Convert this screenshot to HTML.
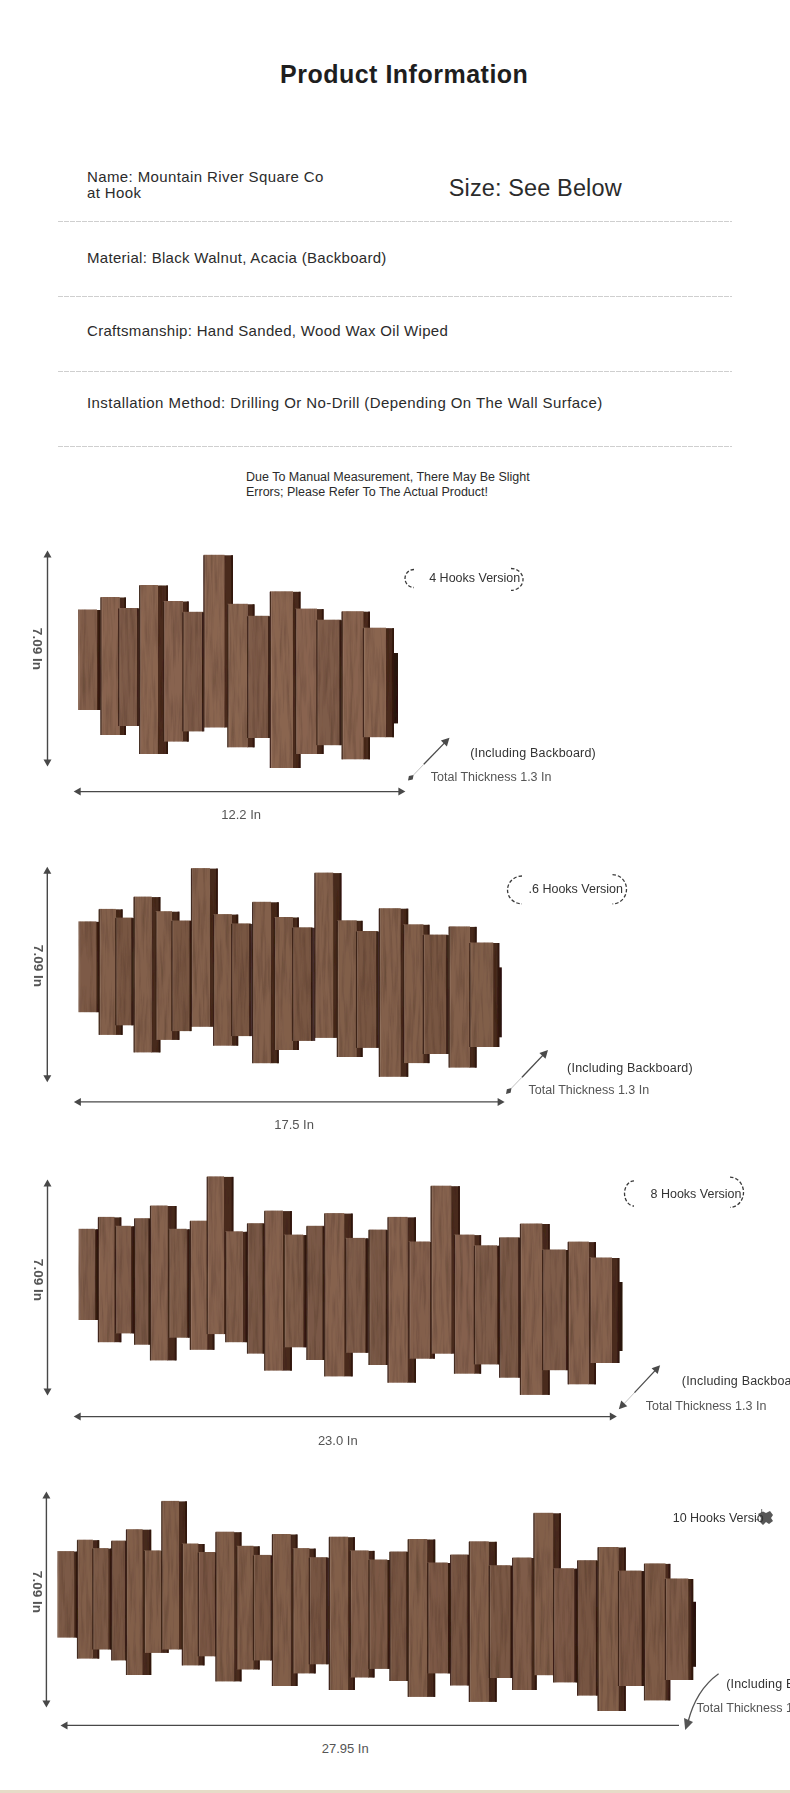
<!DOCTYPE html>
<html><head><meta charset="utf-8">
<style>
html,body{margin:0;padding:0;background:#fff;}
body{width:790px;height:1793px;position:relative;overflow:hidden;font-family:"Liberation Sans",sans-serif;color:#2b2b2b;}
.t{position:absolute;white-space:nowrap;line-height:1;}
.dash{position:absolute;left:58px;width:674px;height:1px;background:repeating-linear-gradient(to right,#cfcfcf 0,#cfcfcf 4.8px,transparent 4.8px,transparent 6px);}
.rot{position:absolute;white-space:nowrap;line-height:1;font-weight:bold;color:#555;transform-origin:center center;}
svg{position:absolute;left:0;top:0;}
.beige{position:absolute;left:0;top:1790px;width:790px;height:3px;background:#e6dcc8;}
</style></head><body>
<div class="t" style="left:280px;top:62px;font-size:25px;letter-spacing:0.5px;font-weight:bold;color:#1e1e1e;">Product Information</div>
<div class="t" style="left:87px;top:169px;font-size:15px;letter-spacing:0.39px;">Name: Mountain River Square Co</div>
<div class="t" style="left:87px;top:185px;font-size:15px;letter-spacing:0.39px;">at Hook</div>
<div class="t" style="left:448.8px;top:177.3px;font-size:23.5px;letter-spacing:0.12px;">Size: See Below</div>
<div class="dash" style="top:221px"></div>
<div class="t" style="left:87px;top:250px;font-size:15px;letter-spacing:0.3px;">Material: Black Walnut, Acacia (Backboard)</div>
<div class="dash" style="top:296px"></div>
<div class="t" style="left:87px;top:323px;font-size:15px;letter-spacing:0.31px;">Craftsmanship: Hand Sanded, Wood Wax Oil Wiped</div>
<div class="dash" style="top:371px"></div>
<div class="t" style="left:87px;top:395px;font-size:15px;letter-spacing:0.43px;">Installation Method: Drilling Or No-Drill (Depending On The Wall Surface)</div>
<div class="dash" style="top:446px"></div>
<div class="t" style="left:246px;top:471px;font-size:12.5px;">Due To Manual Measurement, There May Be Slight</div>
<div class="t" style="left:246px;top:486px;font-size:12.5px;">Errors; Please Refer To The Actual Product!</div>

<svg width="790" height="1793" viewBox="0 0 790 1793">
<defs><filter id="grain" x="0" y="0" width="100%" height="100%" filterUnits="userSpaceOnUse"><feTurbulence type="fractalNoise" baseFrequency="0.3 0.02" numOctaves="3" seed="7" result="n"/><feColorMatrix in="n" type="matrix" values="0 0 0 0 0  0 0 0 0 0  0 0 0 0 0  0.8 0 0 0 -0.32" result="na"/><feComposite in="na" in2="SourceAlpha" operator="in" result="nm"/><feFlood flood-color="#2a1408" result="fl"/><feComposite in="fl" in2="nm" operator="in" result="dk"/><feComposite in="dk" in2="SourceGraphic" operator="over"/></filter></defs>
<g filter="url(#grain)"><rect x="390" y="653" width="8" height="70.4" fill="#2a130a"/>
<rect x="96.5" y="610" width="3.5" height="100" fill="#4a2b1c"/>
<rect x="98.2" y="610" width="3.3" height="100" fill="#2a130a" opacity="0.8"/>
<rect x="78.1" y="609.5" width="18.9" height="100.5" fill="#835f4b"/>
<rect x="78.9" y="609.5" width="1" height="100.5" fill="#ffffff" opacity="0.12"/>
<rect x="119.2" y="597.5" width="6.8" height="137.5" fill="#4a2b1c"/>
<rect x="124.2" y="597.5" width="1.8" height="137.5" fill="#2a130a" opacity="0.8"/>
<rect x="100.6" y="597" width="19.1" height="138" fill="#89644f"/>
<rect x="100.3" y="597.5" width="1.3" height="137.5" fill="#2a130a" opacity="0.75"/>
<rect x="101.4" y="597" width="1" height="138" fill="#ffffff" opacity="0.12"/>
<rect x="118.4" y="608" width="20.2" height="118" fill="#7e5b48"/>
<rect x="137.1" y="608.5" width="2.8" height="117.5" fill="#2a130a" opacity="0.85"/>
<rect x="118.1" y="608.5" width="1.3" height="117.5" fill="#2a130a" opacity="0.75"/>
<rect x="119.2" y="608" width="1" height="118" fill="#ffffff" opacity="0.12"/>
<rect x="157.5" y="585.5" width="10.5" height="168.5" fill="#4a2b1c"/>
<rect x="166.2" y="585.5" width="1.8" height="168.5" fill="#2a130a" opacity="0.8"/>
<rect x="139.3" y="585" width="18.7" height="169" fill="#8a6550"/>
<rect x="139" y="585.5" width="1.3" height="168.5" fill="#2a130a" opacity="0.75"/>
<rect x="140.1" y="585" width="1" height="169" fill="#ffffff" opacity="0.12"/>
<rect x="182.5" y="601.5" width="6.2" height="140.1" fill="#4a2b1c"/>
<rect x="186.9" y="601.5" width="1.8" height="140.1" fill="#2a130a" opacity="0.8"/>
<rect x="163.3" y="601" width="19.7" height="140.6" fill="#88634f"/>
<rect x="163" y="601.5" width="1.3" height="140.1" fill="#2a130a" opacity="0.75"/>
<rect x="164.1" y="601" width="1" height="140.6" fill="#ffffff" opacity="0.12"/>
<rect x="182.6" y="611.8" width="20.9" height="119.6" fill="#7e5b48"/>
<rect x="202" y="612.3" width="2.3" height="119.1" fill="#2a130a" opacity="0.85"/>
<rect x="182.3" y="612.3" width="1.3" height="119.1" fill="#2a130a" opacity="0.75"/>
<rect x="183.4" y="611.8" width="1" height="119.6" fill="#ffffff" opacity="0.12"/>
<rect x="224" y="555.3" width="9" height="172.2" fill="#4a2b1c"/>
<rect x="231.2" y="555.3" width="1.8" height="172.2" fill="#2a130a" opacity="0.8"/>
<rect x="203.6" y="554.8" width="20.9" height="172.7" fill="#8a6550"/>
<rect x="203.3" y="555.3" width="1.3" height="172.2" fill="#2a130a" opacity="0.75"/>
<rect x="204.4" y="554.8" width="1" height="172.7" fill="#ffffff" opacity="0.12"/>
<rect x="247.3" y="604.3" width="7.2" height="143" fill="#4a2b1c"/>
<rect x="252.7" y="604.3" width="1.8" height="143" fill="#2a130a" opacity="0.8"/>
<rect x="227.5" y="603.8" width="20.3" height="143.5" fill="#896550"/>
<rect x="227.2" y="604.3" width="1.3" height="143" fill="#2a130a" opacity="0.75"/>
<rect x="228.3" y="603.8" width="1" height="143.5" fill="#ffffff" opacity="0.12"/>
<rect x="247.4" y="615.8" width="22.2" height="122.2" fill="#7e5b48"/>
<rect x="268.1" y="616.3" width="2.3" height="121.7" fill="#2a130a" opacity="0.85"/>
<rect x="247.1" y="616.3" width="1.3" height="121.7" fill="#2a130a" opacity="0.75"/>
<rect x="248.2" y="615.8" width="1" height="122.2" fill="#ffffff" opacity="0.12"/>
<rect x="292.5" y="591.8" width="8" height="176.2" fill="#4a2b1c"/>
<rect x="298.7" y="591.8" width="1.8" height="176.2" fill="#2a130a" opacity="0.8"/>
<rect x="270" y="591.3" width="23" height="176.7" fill="#8a6550"/>
<rect x="269.7" y="591.8" width="1.3" height="176.2" fill="#2a130a" opacity="0.75"/>
<rect x="270.8" y="591.3" width="1" height="176.7" fill="#ffffff" opacity="0.12"/>
<rect x="316.5" y="609.1" width="7.1" height="144.9" fill="#4a2b1c"/>
<rect x="321.8" y="609.1" width="1.8" height="144.9" fill="#2a130a" opacity="0.8"/>
<rect x="295.3" y="608.6" width="21.7" height="145.4" fill="#896450"/>
<rect x="295" y="609.1" width="1.3" height="144.9" fill="#2a130a" opacity="0.75"/>
<rect x="296.1" y="608.6" width="1" height="145.4" fill="#ffffff" opacity="0.12"/>
<rect x="316.6" y="619.7" width="24.3" height="125.5" fill="#7e5b48"/>
<rect x="339.4" y="620.2" width="3" height="125" fill="#2a130a" opacity="0.85"/>
<rect x="316.3" y="620.2" width="1.3" height="125" fill="#2a130a" opacity="0.75"/>
<rect x="317.4" y="619.7" width="1" height="125.5" fill="#ffffff" opacity="0.12"/>
<rect x="363" y="611.7" width="7" height="147.6" fill="#4a2b1c"/>
<rect x="368.2" y="611.7" width="1.8" height="147.6" fill="#2a130a" opacity="0.8"/>
<rect x="341.8" y="611.2" width="21.7" height="148.1" fill="#89644f"/>
<rect x="341.5" y="611.7" width="1.3" height="147.6" fill="#2a130a" opacity="0.75"/>
<rect x="342.6" y="611.2" width="1" height="148.1" fill="#ffffff" opacity="0.12"/>
<rect x="385.5" y="628.2" width="8.5" height="109" fill="#4a2b1c"/>
<rect x="392.2" y="628.2" width="1.8" height="109" fill="#2a130a" opacity="0.8"/>
<rect x="363.1" y="627.7" width="22.9" height="109.5" fill="#8a6550"/>
<rect x="362.8" y="628.2" width="1.3" height="109" fill="#2a130a" opacity="0.75"/>
<rect x="363.9" y="627.7" width="1" height="109.5" fill="#ffffff" opacity="0.12"/></g>
<g filter="url(#grain)"><rect x="495.3" y="967.4" width="6.5" height="69.9" fill="#2a130a"/>
<rect x="95.9" y="921.9" width="3.4" height="90.3" fill="#472a1b"/>
<rect x="97.5" y="921.9" width="1.8" height="90.3" fill="#2a130a" opacity="0.8"/>
<rect x="78.5" y="921.4" width="17.9" height="90.8" fill="#7d5a46"/>
<rect x="79.3" y="921.4" width="1" height="90.8" fill="#ffffff" opacity="0.12"/>
<rect x="115.4" y="909.4" width="7.2" height="125.5" fill="#472a1b"/>
<rect x="120.8" y="909.4" width="1.8" height="125.5" fill="#2a130a" opacity="0.8"/>
<rect x="98.9" y="908.9" width="17" height="126" fill="#83604b"/>
<rect x="98.6" y="909.4" width="1.3" height="125.5" fill="#2a130a" opacity="0.75"/>
<rect x="99.7" y="908.9" width="1" height="126" fill="#ffffff" opacity="0.12"/>
<rect x="115.5" y="917.6" width="17.3" height="107.7" fill="#785642"/>
<rect x="131.3" y="918.1" width="3.1" height="107.2" fill="#2a130a" opacity="0.85"/>
<rect x="115.2" y="918.1" width="1.3" height="107.2" fill="#2a130a" opacity="0.75"/>
<rect x="116.3" y="917.6" width="1" height="107.7" fill="#ffffff" opacity="0.12"/>
<rect x="151.2" y="897.1" width="9.2" height="155.3" fill="#472a1b"/>
<rect x="158.6" y="897.1" width="1.8" height="155.3" fill="#2a130a" opacity="0.8"/>
<rect x="133.8" y="896.6" width="17.9" height="155.8" fill="#83604b"/>
<rect x="133.5" y="897.1" width="1.3" height="155.3" fill="#2a130a" opacity="0.75"/>
<rect x="134.6" y="896.6" width="1" height="155.8" fill="#ffffff" opacity="0.12"/>
<rect x="171.5" y="911.7" width="7.9" height="128.2" fill="#472a1b"/>
<rect x="177.6" y="911.7" width="1.8" height="128.2" fill="#2a130a" opacity="0.8"/>
<rect x="155.6" y="911.2" width="16.4" height="128.7" fill="#83604b"/>
<rect x="155.3" y="911.7" width="1.3" height="128.2" fill="#2a130a" opacity="0.75"/>
<rect x="156.4" y="911.2" width="1" height="128.7" fill="#ffffff" opacity="0.12"/>
<rect x="171.6" y="920.5" width="19.4" height="110.6" fill="#785642"/>
<rect x="189.5" y="921" width="2.3" height="110.1" fill="#2a130a" opacity="0.85"/>
<rect x="171.3" y="921" width="1.3" height="110.1" fill="#2a130a" opacity="0.75"/>
<rect x="172.4" y="920.5" width="1" height="110.6" fill="#ffffff" opacity="0.12"/>
<rect x="209.4" y="868.6" width="8.4" height="158.2" fill="#472a1b"/>
<rect x="216" y="868.6" width="1.8" height="158.2" fill="#2a130a" opacity="0.8"/>
<rect x="191.2" y="868.1" width="18.7" height="158.7" fill="#83604b"/>
<rect x="190.9" y="868.6" width="1.3" height="158.2" fill="#2a130a" opacity="0.75"/>
<rect x="192" y="868.1" width="1" height="158.7" fill="#ffffff" opacity="0.12"/>
<rect x="231.3" y="914.6" width="6.9" height="131.1" fill="#472a1b"/>
<rect x="236.4" y="914.6" width="1.8" height="131.1" fill="#2a130a" opacity="0.8"/>
<rect x="213.3" y="914.1" width="18.5" height="131.6" fill="#825f4a"/>
<rect x="213" y="914.6" width="1.3" height="131.1" fill="#2a130a" opacity="0.75"/>
<rect x="214.1" y="914.1" width="1" height="131.6" fill="#ffffff" opacity="0.12"/>
<rect x="231.4" y="923.4" width="19.3" height="112.7" fill="#785642"/>
<rect x="249.2" y="923.9" width="3.7" height="112.2" fill="#2a130a" opacity="0.85"/>
<rect x="231.1" y="923.9" width="1.3" height="112.2" fill="#2a130a" opacity="0.75"/>
<rect x="232.2" y="923.4" width="1" height="112.7" fill="#ffffff" opacity="0.12"/>
<rect x="270.5" y="902.3" width="8.3" height="160.9" fill="#472a1b"/>
<rect x="277" y="902.3" width="1.8" height="160.9" fill="#2a130a" opacity="0.8"/>
<rect x="252.3" y="901.8" width="18.7" height="161.4" fill="#83604b"/>
<rect x="252" y="902.3" width="1.3" height="160.9" fill="#2a130a" opacity="0.75"/>
<rect x="253.1" y="901.8" width="1" height="161.4" fill="#ffffff" opacity="0.12"/>
<rect x="292.3" y="917.5" width="6.6" height="132.5" fill="#472a1b"/>
<rect x="297.1" y="917.5" width="1.8" height="132.5" fill="#2a130a" opacity="0.8"/>
<rect x="274.2" y="917" width="18.6" height="133" fill="#825f4a"/>
<rect x="273.9" y="917.5" width="1.3" height="132.5" fill="#2a130a" opacity="0.75"/>
<rect x="275" y="917" width="1" height="133" fill="#ffffff" opacity="0.12"/>
<rect x="292.4" y="927.3" width="20.1" height="113.6" fill="#785642"/>
<rect x="311" y="927.8" width="4.2" height="113.1" fill="#2a130a" opacity="0.85"/>
<rect x="292.1" y="927.8" width="1.3" height="113.1" fill="#2a130a" opacity="0.75"/>
<rect x="293.2" y="927.3" width="1" height="113.6" fill="#ffffff" opacity="0.12"/>
<rect x="332.7" y="873.1" width="8.7" height="164.8" fill="#472a1b"/>
<rect x="339.6" y="873.1" width="1.8" height="164.8" fill="#2a130a" opacity="0.8"/>
<rect x="314.6" y="872.6" width="18.6" height="165.3" fill="#83604b"/>
<rect x="314.3" y="873.1" width="1.3" height="164.8" fill="#2a130a" opacity="0.75"/>
<rect x="315.4" y="872.6" width="1" height="165.3" fill="#ffffff" opacity="0.12"/>
<rect x="356.1" y="920.8" width="6.5" height="136.2" fill="#472a1b"/>
<rect x="360.8" y="920.8" width="1.8" height="136.2" fill="#2a130a" opacity="0.8"/>
<rect x="337" y="920.3" width="19.6" height="136.7" fill="#815f4a"/>
<rect x="336.7" y="920.8" width="1.3" height="136.2" fill="#2a130a" opacity="0.75"/>
<rect x="337.8" y="920.3" width="1" height="136.7" fill="#ffffff" opacity="0.12"/>
<rect x="356.2" y="931" width="21.6" height="116.9" fill="#785642"/>
<rect x="376.3" y="931.5" width="3.3" height="116.4" fill="#2a130a" opacity="0.85"/>
<rect x="355.9" y="931.5" width="1.3" height="116.4" fill="#2a130a" opacity="0.75"/>
<rect x="357" y="931" width="1" height="116.9" fill="#ffffff" opacity="0.12"/>
<rect x="400.1" y="908.7" width="8.1" height="168.1" fill="#472a1b"/>
<rect x="406.4" y="908.7" width="1.8" height="168.1" fill="#2a130a" opacity="0.8"/>
<rect x="379" y="908.2" width="21.6" height="168.6" fill="#83604b"/>
<rect x="378.7" y="908.7" width="1.3" height="168.1" fill="#2a130a" opacity="0.75"/>
<rect x="379.8" y="908.2" width="1" height="168.6" fill="#ffffff" opacity="0.12"/>
<rect x="422.9" y="924.8" width="6.6" height="138.3" fill="#472a1b"/>
<rect x="427.7" y="924.8" width="1.8" height="138.3" fill="#2a130a" opacity="0.8"/>
<rect x="403.3" y="924.3" width="20.1" height="138.8" fill="#825f4a"/>
<rect x="403" y="924.8" width="1.3" height="138.3" fill="#2a130a" opacity="0.75"/>
<rect x="404.1" y="924.3" width="1" height="138.8" fill="#ffffff" opacity="0.12"/>
<rect x="423" y="934.6" width="24.7" height="119.4" fill="#785642"/>
<rect x="446.2" y="935.1" width="3.2" height="118.9" fill="#2a130a" opacity="0.85"/>
<rect x="422.7" y="935.1" width="1.3" height="118.9" fill="#2a130a" opacity="0.75"/>
<rect x="423.8" y="934.6" width="1" height="119.4" fill="#ffffff" opacity="0.12"/>
<rect x="469.4" y="926.9" width="7.2" height="140.7" fill="#472a1b"/>
<rect x="474.8" y="926.9" width="1.8" height="140.7" fill="#2a130a" opacity="0.8"/>
<rect x="448.8" y="926.4" width="21.1" height="141.2" fill="#83604b"/>
<rect x="448.5" y="926.9" width="1.3" height="140.7" fill="#2a130a" opacity="0.75"/>
<rect x="449.6" y="926.4" width="1" height="141.2" fill="#ffffff" opacity="0.12"/>
<rect x="492.8" y="943" width="6.5" height="104" fill="#472a1b"/>
<rect x="497.5" y="943" width="1.8" height="104" fill="#2a130a" opacity="0.8"/>
<rect x="469.5" y="942.5" width="23.8" height="104.5" fill="#815f4a"/>
<rect x="469.2" y="943" width="1.3" height="104" fill="#2a130a" opacity="0.75"/>
<rect x="470.3" y="942.5" width="1" height="104.5" fill="#ffffff" opacity="0.12"/></g>
<g filter="url(#grain)"><rect x="615.4" y="1282" width="7.1" height="69" fill="#2a130a"/>
<rect x="94.4" y="1229.3" width="3.6" height="90.7" fill="#4a2c1e"/>
<rect x="96.2" y="1229.3" width="2.8" height="90.7" fill="#2a130a" opacity="0.8"/>
<rect x="78.6" y="1228.8" width="16.3" height="91.2" fill="#7f5d4a"/>
<rect x="79.4" y="1228.8" width="1" height="91.2" fill="#ffffff" opacity="0.12"/>
<rect x="113.9" y="1217.4" width="7.4" height="124.8" fill="#4a2c1e"/>
<rect x="119.5" y="1217.4" width="1.8" height="124.8" fill="#2a130a" opacity="0.8"/>
<rect x="98.1" y="1216.9" width="16.3" height="125.3" fill="#86624e"/>
<rect x="97.8" y="1217.4" width="1.3" height="124.8" fill="#2a130a" opacity="0.75"/>
<rect x="98.9" y="1216.9" width="1" height="125.3" fill="#ffffff" opacity="0.12"/>
<rect x="130.4" y="1226.3" width="3.8" height="107.1" fill="#4a2c1e"/>
<rect x="132.4" y="1226.3" width="2.8" height="107.1" fill="#2a130a" opacity="0.8"/>
<rect x="115.3" y="1225.8" width="15.6" height="107.6" fill="#805d4a"/>
<rect x="115" y="1226.3" width="1.3" height="107.1" fill="#2a130a" opacity="0.75"/>
<rect x="116.1" y="1225.8" width="1" height="107.6" fill="#ffffff" opacity="0.12"/>
<rect x="134.3" y="1218.2" width="15.6" height="126.5" fill="#7a5946"/>
<rect x="148.4" y="1218.7" width="2.3" height="126" fill="#2a130a" opacity="0.85"/>
<rect x="134" y="1218.7" width="1.3" height="126" fill="#2a130a" opacity="0.75"/>
<rect x="135.1" y="1218.2" width="1" height="126.5" fill="#ffffff" opacity="0.12"/>
<rect x="167.1" y="1206" width="9.4" height="154.4" fill="#4a2c1e"/>
<rect x="174.7" y="1206" width="1.8" height="154.4" fill="#2a130a" opacity="0.8"/>
<rect x="150.2" y="1205.5" width="17.4" height="154.9" fill="#86624e"/>
<rect x="149.9" y="1206" width="1.3" height="154.4" fill="#2a130a" opacity="0.75"/>
<rect x="151" y="1205.5" width="1" height="154.9" fill="#ffffff" opacity="0.12"/>
<rect x="186.1" y="1229.3" width="3.5" height="108.4" fill="#4a2c1e"/>
<rect x="187.8" y="1229.3" width="3.1" height="108.4" fill="#2a130a" opacity="0.8"/>
<rect x="168.5" y="1228.8" width="18.1" height="108.9" fill="#7f5d49"/>
<rect x="168.2" y="1229.3" width="1.3" height="108.4" fill="#2a130a" opacity="0.75"/>
<rect x="169.3" y="1228.8" width="1" height="108.9" fill="#ffffff" opacity="0.12"/>
<rect x="206.8" y="1221.2" width="7.6" height="128.6" fill="#4a2c1e"/>
<rect x="212.6" y="1221.2" width="1.8" height="128.6" fill="#2a130a" opacity="0.8"/>
<rect x="190" y="1220.7" width="17.3" height="129.1" fill="#86624e"/>
<rect x="189.7" y="1221.2" width="1.3" height="128.6" fill="#2a130a" opacity="0.75"/>
<rect x="190.8" y="1220.7" width="1" height="129.1" fill="#ffffff" opacity="0.12"/>
<rect x="223.5" y="1176.9" width="9.9" height="157.2" fill="#4a2c1e"/>
<rect x="231.6" y="1176.9" width="1.8" height="157.2" fill="#2a130a" opacity="0.8"/>
<rect x="206.9" y="1176.4" width="17.1" height="157.7" fill="#86624e"/>
<rect x="206.6" y="1176.9" width="1.3" height="157.2" fill="#2a130a" opacity="0.75"/>
<rect x="207.7" y="1176.4" width="1" height="157.7" fill="#ffffff" opacity="0.12"/>
<rect x="242.3" y="1231.8" width="5" height="110.4" fill="#4a2c1e"/>
<rect x="245.5" y="1231.8" width="2.6" height="110.4" fill="#2a130a" opacity="0.8"/>
<rect x="225.4" y="1231.3" width="17.4" height="110.9" fill="#825f4b"/>
<rect x="225.1" y="1231.8" width="1.3" height="110.4" fill="#2a130a" opacity="0.75"/>
<rect x="226.2" y="1231.3" width="1" height="110.9" fill="#ffffff" opacity="0.12"/>
<rect x="247.2" y="1223.2" width="16.8" height="130.4" fill="#7a5946"/>
<rect x="262.5" y="1223.7" width="2.3" height="129.9" fill="#2a130a" opacity="0.85"/>
<rect x="246.9" y="1223.7" width="1.3" height="129.9" fill="#2a130a" opacity="0.75"/>
<rect x="248" y="1223.2" width="1" height="130.4" fill="#ffffff" opacity="0.12"/>
<rect x="282.5" y="1211.1" width="9.4" height="159.5" fill="#4a2c1e"/>
<rect x="290.1" y="1211.1" width="1.8" height="159.5" fill="#2a130a" opacity="0.8"/>
<rect x="264.4" y="1210.6" width="18.6" height="160" fill="#86624e"/>
<rect x="264.1" y="1211.1" width="1.3" height="159.5" fill="#2a130a" opacity="0.75"/>
<rect x="265.2" y="1210.6" width="1" height="160" fill="#ffffff" opacity="0.12"/>
<rect x="302.8" y="1235.1" width="3.5" height="112.2" fill="#4a2c1e"/>
<rect x="304.5" y="1235.1" width="3" height="112.2" fill="#2a130a" opacity="0.8"/>
<rect x="283.9" y="1234.6" width="19.4" height="112.7" fill="#7f5d49"/>
<rect x="283.6" y="1235.1" width="1.3" height="112.2" fill="#2a130a" opacity="0.75"/>
<rect x="284.7" y="1234.6" width="1" height="112.7" fill="#ffffff" opacity="0.12"/>
<rect x="306.6" y="1225.8" width="17.4" height="134.2" fill="#7a5946"/>
<rect x="322.5" y="1226.3" width="2.3" height="133.7" fill="#2a130a" opacity="0.85"/>
<rect x="306.3" y="1226.3" width="1.3" height="133.7" fill="#2a130a" opacity="0.75"/>
<rect x="307.4" y="1225.8" width="1" height="134.2" fill="#ffffff" opacity="0.12"/>
<rect x="343.8" y="1213.6" width="8.9" height="162.8" fill="#4a2c1e"/>
<rect x="350.9" y="1213.6" width="1.8" height="162.8" fill="#2a130a" opacity="0.8"/>
<rect x="324.4" y="1213.1" width="19.9" height="163.3" fill="#86624e"/>
<rect x="324.1" y="1213.6" width="1.3" height="162.8" fill="#2a130a" opacity="0.75"/>
<rect x="325.2" y="1213.1" width="1" height="163.3" fill="#ffffff" opacity="0.12"/>
<rect x="364.8" y="1238.4" width="3" height="114.4" fill="#4a2c1e"/>
<rect x="366" y="1238.4" width="3.6" height="114.4" fill="#2a130a" opacity="0.8"/>
<rect x="345.4" y="1237.9" width="19.9" height="114.9" fill="#7e5c49"/>
<rect x="345.1" y="1238.4" width="1.3" height="114.4" fill="#2a130a" opacity="0.75"/>
<rect x="346.2" y="1237.9" width="1" height="114.9" fill="#ffffff" opacity="0.12"/>
<rect x="368.7" y="1229.6" width="18.6" height="135.4" fill="#7a5946"/>
<rect x="385.8" y="1230.1" width="2.3" height="134.9" fill="#2a130a" opacity="0.85"/>
<rect x="368.4" y="1230.1" width="1.3" height="134.9" fill="#2a130a" opacity="0.75"/>
<rect x="369.5" y="1229.6" width="1" height="135.4" fill="#ffffff" opacity="0.12"/>
<rect x="407.1" y="1217.4" width="8.9" height="165.3" fill="#4a2c1e"/>
<rect x="414.2" y="1217.4" width="1.8" height="165.3" fill="#2a130a" opacity="0.8"/>
<rect x="387.7" y="1216.9" width="19.9" height="165.8" fill="#86624e"/>
<rect x="387.4" y="1217.4" width="1.3" height="165.3" fill="#2a130a" opacity="0.75"/>
<rect x="388.5" y="1216.9" width="1" height="165.8" fill="#ffffff" opacity="0.12"/>
<rect x="429.4" y="1242" width="5.5" height="116.7" fill="#4a2c1e"/>
<rect x="433.1" y="1242" width="1.8" height="116.7" fill="#2a130a" opacity="0.8"/>
<rect x="408.7" y="1241.5" width="21.2" height="117.2" fill="#835f4c"/>
<rect x="408.4" y="1242" width="1.3" height="116.7" fill="#2a130a" opacity="0.75"/>
<rect x="409.5" y="1241.5" width="1" height="117.2" fill="#ffffff" opacity="0.12"/>
<rect x="450.9" y="1186.2" width="9" height="167.5" fill="#4a2c1e"/>
<rect x="458.1" y="1186.2" width="1.8" height="167.5" fill="#2a130a" opacity="0.8"/>
<rect x="430.8" y="1185.7" width="20.6" height="168" fill="#86624e"/>
<rect x="430.5" y="1186.2" width="1.3" height="167.5" fill="#2a130a" opacity="0.75"/>
<rect x="431.6" y="1185.7" width="1" height="168" fill="#ffffff" opacity="0.12"/>
<rect x="474" y="1235.1" width="7.1" height="138.6" fill="#4a2c1e"/>
<rect x="479.3" y="1235.1" width="1.8" height="138.6" fill="#2a130a" opacity="0.8"/>
<rect x="454.2" y="1234.6" width="20.3" height="139.1" fill="#85614e"/>
<rect x="453.9" y="1235.1" width="1.3" height="138.6" fill="#2a130a" opacity="0.75"/>
<rect x="455" y="1234.6" width="1" height="139.1" fill="#ffffff" opacity="0.12"/>
<rect x="496.6" y="1245.8" width="3.1" height="118.6" fill="#4a2c1e"/>
<rect x="497.9" y="1245.8" width="1.8" height="118.6" fill="#2a130a" opacity="0.8"/>
<rect x="474.1" y="1245.3" width="23" height="119.1" fill="#7e5c49"/>
<rect x="473.8" y="1245.8" width="1.3" height="118.6" fill="#2a130a" opacity="0.75"/>
<rect x="474.9" y="1245.3" width="1" height="119.1" fill="#ffffff" opacity="0.12"/>
<rect x="499.3" y="1237.3" width="20.4" height="140.4" fill="#7a5946"/>
<rect x="518.2" y="1237.8" width="2.3" height="139.9" fill="#2a130a" opacity="0.85"/>
<rect x="499" y="1237.8" width="1.3" height="139.9" fill="#2a130a" opacity="0.75"/>
<rect x="500.1" y="1237.3" width="1" height="140.4" fill="#ffffff" opacity="0.12"/>
<rect x="541.8" y="1224" width="7.9" height="170.9" fill="#4a2c1e"/>
<rect x="547.9" y="1224" width="1.8" height="170.9" fill="#2a130a" opacity="0.8"/>
<rect x="520.1" y="1223.5" width="22.2" height="171.4" fill="#86624e"/>
<rect x="519.8" y="1224" width="1.3" height="170.9" fill="#2a130a" opacity="0.75"/>
<rect x="520.9" y="1223.5" width="1" height="171.4" fill="#ffffff" opacity="0.12"/>
<rect x="565.2" y="1250" width="3.1" height="120.2" fill="#4a2c1e"/>
<rect x="566.5" y="1250" width="1.8" height="120.2" fill="#2a130a" opacity="0.8"/>
<rect x="542.4" y="1249.5" width="23.3" height="120.7" fill="#7e5c49"/>
<rect x="542.1" y="1250" width="1.3" height="120.2" fill="#2a130a" opacity="0.75"/>
<rect x="543.2" y="1249.5" width="1" height="120.7" fill="#ffffff" opacity="0.12"/>
<rect x="588.3" y="1242.1" width="7.7" height="142.2" fill="#4a2c1e"/>
<rect x="594.2" y="1242.1" width="1.8" height="142.2" fill="#2a130a" opacity="0.8"/>
<rect x="567.9" y="1241.6" width="20.9" height="142.7" fill="#86624e"/>
<rect x="567.6" y="1242.1" width="1.3" height="142.2" fill="#2a130a" opacity="0.75"/>
<rect x="568.7" y="1241.6" width="1" height="142.7" fill="#ffffff" opacity="0.12"/>
<rect x="611.5" y="1258" width="7.9" height="105" fill="#4a2c1e"/>
<rect x="617.6" y="1258" width="1.8" height="105" fill="#2a130a" opacity="0.8"/>
<rect x="589.7" y="1257.5" width="22.3" height="105.5" fill="#86624e"/>
<rect x="589.4" y="1258" width="1.3" height="105" fill="#2a130a" opacity="0.75"/>
<rect x="590.5" y="1257.5" width="1" height="105.5" fill="#ffffff" opacity="0.12"/></g>
<g filter="url(#grain)"><rect x="689.2" y="1601.8" width="6.8" height="65" fill="#2a130a"/>
<rect x="73.7" y="1551.6" width="3.9" height="86" fill="#482b1d"/>
<rect x="75.8" y="1551.6" width="1.8" height="86" fill="#2a130a" opacity="0.8"/>
<rect x="57.4" y="1551.1" width="16.8" height="86.5" fill="#7c5a46"/>
<rect x="58.2" y="1551.1" width="1" height="86.5" fill="#ffffff" opacity="0.12"/>
<rect x="92.4" y="1540.2" width="6.8" height="118.4" fill="#482b1d"/>
<rect x="97.4" y="1540.2" width="1.8" height="118.4" fill="#2a130a" opacity="0.8"/>
<rect x="77.2" y="1539.7" width="15.7" height="118.9" fill="#815e49"/>
<rect x="76.9" y="1540.2" width="1.3" height="118.4" fill="#2a130a" opacity="0.75"/>
<rect x="78" y="1539.7" width="1" height="118.9" fill="#ffffff" opacity="0.12"/>
<rect x="107.9" y="1548.6" width="3.9" height="100.9" fill="#482b1d"/>
<rect x="110" y="1548.6" width="1.8" height="100.9" fill="#2a130a" opacity="0.8"/>
<rect x="92.5" y="1548.1" width="15.9" height="101.4" fill="#7c5a46"/>
<rect x="92.2" y="1548.6" width="1.3" height="100.9" fill="#2a130a" opacity="0.75"/>
<rect x="93.3" y="1548.1" width="1" height="101.4" fill="#ffffff" opacity="0.12"/>
<rect x="111.4" y="1540.6" width="15.2" height="119.8" fill="#775542"/>
<rect x="125.1" y="1541.1" width="2.3" height="119.3" fill="#2a130a" opacity="0.85"/>
<rect x="111.1" y="1541.1" width="1.3" height="119.3" fill="#2a130a" opacity="0.75"/>
<rect x="112.2" y="1540.6" width="1" height="119.8" fill="#ffffff" opacity="0.12"/>
<rect x="142" y="1529.7" width="9.2" height="145.3" fill="#482b1d"/>
<rect x="149.4" y="1529.7" width="1.8" height="145.3" fill="#2a130a" opacity="0.8"/>
<rect x="126.2" y="1529.2" width="16.3" height="145.8" fill="#825f4a"/>
<rect x="125.9" y="1529.7" width="1.3" height="145.3" fill="#2a130a" opacity="0.75"/>
<rect x="127" y="1529.2" width="1" height="145.8" fill="#ffffff" opacity="0.12"/>
<rect x="160.3" y="1550.9" width="8.4" height="102" fill="#482b1d"/>
<rect x="166.9" y="1550.9" width="1.8" height="102" fill="#2a130a" opacity="0.8"/>
<rect x="144" y="1550.4" width="16.8" height="102.5" fill="#825f4a"/>
<rect x="143.7" y="1550.9" width="1.3" height="102" fill="#2a130a" opacity="0.75"/>
<rect x="144.8" y="1550.4" width="1" height="102.5" fill="#ffffff" opacity="0.12"/>
<rect x="178.5" y="1501.4" width="8.5" height="148.1" fill="#482b1d"/>
<rect x="185.2" y="1501.4" width="1.8" height="148.1" fill="#2a130a" opacity="0.8"/>
<rect x="161.5" y="1500.9" width="17.5" height="148.6" fill="#825f4a"/>
<rect x="161.2" y="1501.4" width="1.3" height="148.1" fill="#2a130a" opacity="0.75"/>
<rect x="162.3" y="1500.9" width="1" height="148.6" fill="#ffffff" opacity="0.12"/>
<rect x="197.9" y="1544" width="6.6" height="121.4" fill="#482b1d"/>
<rect x="202.7" y="1544" width="1.8" height="121.4" fill="#2a130a" opacity="0.8"/>
<rect x="182" y="1543.5" width="16.4" height="121.9" fill="#815e49"/>
<rect x="181.7" y="1544" width="1.3" height="121.4" fill="#2a130a" opacity="0.75"/>
<rect x="182.8" y="1543.5" width="1" height="121.9" fill="#ffffff" opacity="0.12"/>
<rect x="214.5" y="1552.5" width="2.1" height="103.8" fill="#482b1d"/>
<rect x="214.8" y="1552.5" width="1.8" height="103.8" fill="#2a130a" opacity="0.8"/>
<rect x="198" y="1552" width="17" height="104.3" fill="#7a5744"/>
<rect x="197.7" y="1552.5" width="1.3" height="103.8" fill="#2a130a" opacity="0.75"/>
<rect x="198.8" y="1552" width="1" height="104.3" fill="#ffffff" opacity="0.12"/>
<rect x="233.7" y="1532.2" width="7.8" height="149.2" fill="#482b1d"/>
<rect x="239.7" y="1532.2" width="1.8" height="149.2" fill="#2a130a" opacity="0.8"/>
<rect x="215.6" y="1531.7" width="18.6" height="149.7" fill="#825f4a"/>
<rect x="215.3" y="1532.2" width="1.3" height="149.2" fill="#2a130a" opacity="0.75"/>
<rect x="216.4" y="1531.7" width="1" height="149.7" fill="#ffffff" opacity="0.12"/>
<rect x="253" y="1546.3" width="6.7" height="123.2" fill="#482b1d"/>
<rect x="257.9" y="1546.3" width="1.8" height="123.2" fill="#2a130a" opacity="0.8"/>
<rect x="236.5" y="1545.8" width="17" height="123.7" fill="#815e49"/>
<rect x="236.2" y="1546.3" width="1.3" height="123.2" fill="#2a130a" opacity="0.75"/>
<rect x="237.3" y="1545.8" width="1" height="123.7" fill="#ffffff" opacity="0.12"/>
<rect x="270.1" y="1555.4" width="1.7" height="105" fill="#482b1d"/>
<rect x="270" y="1555.4" width="3" height="105" fill="#2a130a" opacity="0.8"/>
<rect x="253.1" y="1554.9" width="17.5" height="105.5" fill="#795743"/>
<rect x="252.8" y="1555.4" width="1.3" height="105" fill="#2a130a" opacity="0.75"/>
<rect x="253.9" y="1554.9" width="1" height="105.5" fill="#ffffff" opacity="0.12"/>
<rect x="290.2" y="1534.5" width="7.3" height="151.5" fill="#482b1d"/>
<rect x="295.7" y="1534.5" width="1.8" height="151.5" fill="#2a130a" opacity="0.8"/>
<rect x="272.1" y="1534" width="18.6" height="152" fill="#825f4a"/>
<rect x="271.8" y="1534.5" width="1.3" height="151.5" fill="#2a130a" opacity="0.75"/>
<rect x="272.9" y="1534" width="1" height="152" fill="#ffffff" opacity="0.12"/>
<rect x="308.9" y="1548.6" width="6.8" height="124.8" fill="#482b1d"/>
<rect x="313.9" y="1548.6" width="1.8" height="124.8" fill="#2a130a" opacity="0.8"/>
<rect x="292.6" y="1548.1" width="16.8" height="125.3" fill="#815e49"/>
<rect x="292.3" y="1548.6" width="1.3" height="124.8" fill="#2a130a" opacity="0.75"/>
<rect x="293.4" y="1548.1" width="1" height="125.3" fill="#ffffff" opacity="0.12"/>
<rect x="309" y="1557.2" width="18.6" height="107.1" fill="#775542"/>
<rect x="326.1" y="1557.7" width="3.5" height="106.6" fill="#2a130a" opacity="0.85"/>
<rect x="308.7" y="1557.7" width="1.3" height="106.6" fill="#2a130a" opacity="0.75"/>
<rect x="309.8" y="1557.2" width="1" height="107.1" fill="#ffffff" opacity="0.12"/>
<rect x="347.6" y="1537.2" width="7.3" height="152.8" fill="#482b1d"/>
<rect x="353.1" y="1537.2" width="1.8" height="152.8" fill="#2a130a" opacity="0.8"/>
<rect x="329" y="1536.7" width="19.1" height="153.3" fill="#825f4a"/>
<rect x="328.7" y="1537.2" width="1.3" height="152.8" fill="#2a130a" opacity="0.75"/>
<rect x="329.8" y="1536.7" width="1" height="153.3" fill="#ffffff" opacity="0.12"/>
<rect x="368.1" y="1550.9" width="6.4" height="126.6" fill="#482b1d"/>
<rect x="372.7" y="1550.9" width="1.8" height="126.6" fill="#2a130a" opacity="0.8"/>
<rect x="350" y="1550.4" width="18.6" height="127.1" fill="#805d49"/>
<rect x="349.7" y="1550.9" width="1.3" height="126.6" fill="#2a130a" opacity="0.75"/>
<rect x="350.8" y="1550.4" width="1" height="127.1" fill="#ffffff" opacity="0.12"/>
<rect x="386.8" y="1560" width="3.2" height="108.9" fill="#482b1d"/>
<rect x="388.2" y="1560" width="1.8" height="108.9" fill="#2a130a" opacity="0.8"/>
<rect x="368.7" y="1559.5" width="18.6" height="109.4" fill="#7b5945"/>
<rect x="368.4" y="1560" width="1.3" height="108.9" fill="#2a130a" opacity="0.75"/>
<rect x="369.5" y="1559.5" width="1" height="109.4" fill="#ffffff" opacity="0.12"/>
<rect x="389.6" y="1551.5" width="18.2" height="129.5" fill="#775542"/>
<rect x="406.3" y="1552" width="2.3" height="129" fill="#2a130a" opacity="0.85"/>
<rect x="389.3" y="1552" width="1.3" height="129" fill="#2a130a" opacity="0.75"/>
<rect x="390.4" y="1551.5" width="1" height="129.5" fill="#ffffff" opacity="0.12"/>
<rect x="426.7" y="1539.5" width="8.5" height="157.4" fill="#482b1d"/>
<rect x="433.4" y="1539.5" width="1.8" height="157.4" fill="#2a130a" opacity="0.8"/>
<rect x="407.9" y="1539" width="19.3" height="157.9" fill="#825f4a"/>
<rect x="407.6" y="1539.5" width="1.3" height="157.4" fill="#2a130a" opacity="0.75"/>
<rect x="408.7" y="1539" width="1" height="157.9" fill="#ffffff" opacity="0.12"/>
<rect x="447.2" y="1563" width="2.8" height="110.4" fill="#482b1d"/>
<rect x="448.2" y="1563" width="3" height="110.4" fill="#2a130a" opacity="0.8"/>
<rect x="427.5" y="1562.5" width="20.2" height="110.9" fill="#7b5845"/>
<rect x="427.2" y="1563" width="1.3" height="110.4" fill="#2a130a" opacity="0.75"/>
<rect x="428.3" y="1562.5" width="1" height="110.9" fill="#ffffff" opacity="0.12"/>
<rect x="450.3" y="1554.5" width="18.6" height="131" fill="#775542"/>
<rect x="467.4" y="1555" width="2.3" height="130.5" fill="#2a130a" opacity="0.85"/>
<rect x="450" y="1555" width="1.3" height="130.5" fill="#2a130a" opacity="0.75"/>
<rect x="451.1" y="1554.5" width="1" height="131" fill="#ffffff" opacity="0.12"/>
<rect x="488.2" y="1541.8" width="8.5" height="160.1" fill="#482b1d"/>
<rect x="494.9" y="1541.8" width="1.8" height="160.1" fill="#2a130a" opacity="0.8"/>
<rect x="469" y="1541.3" width="19.7" height="160.6" fill="#825f4a"/>
<rect x="468.7" y="1541.8" width="1.3" height="160.1" fill="#2a130a" opacity="0.75"/>
<rect x="469.8" y="1541.3" width="1" height="160.6" fill="#ffffff" opacity="0.12"/>
<rect x="509.9" y="1565.7" width="2.3" height="112.3" fill="#482b1d"/>
<rect x="510.4" y="1565.7" width="2.8" height="112.3" fill="#2a130a" opacity="0.8"/>
<rect x="489" y="1565.2" width="21.4" height="112.8" fill="#7a5844"/>
<rect x="488.7" y="1565.7" width="1.3" height="112.3" fill="#2a130a" opacity="0.75"/>
<rect x="489.8" y="1565.2" width="1" height="112.8" fill="#ffffff" opacity="0.12"/>
<rect x="531" y="1558" width="5.7" height="132" fill="#482b1d"/>
<rect x="534.9" y="1558" width="1.8" height="132" fill="#2a130a" opacity="0.8"/>
<rect x="512.3" y="1557.5" width="19.2" height="132.5" fill="#7f5c48"/>
<rect x="512" y="1558" width="1.3" height="132" fill="#2a130a" opacity="0.75"/>
<rect x="513.1" y="1557.5" width="1" height="132.5" fill="#ffffff" opacity="0.12"/>
<rect x="552.7" y="1513.3" width="8.2" height="161.9" fill="#482b1d"/>
<rect x="559.1" y="1513.3" width="1.8" height="161.9" fill="#2a130a" opacity="0.8"/>
<rect x="533.6" y="1512.8" width="19.6" height="162.4" fill="#825f4a"/>
<rect x="533.3" y="1513.3" width="1.3" height="161.9" fill="#2a130a" opacity="0.75"/>
<rect x="534.4" y="1512.8" width="1" height="162.4" fill="#ffffff" opacity="0.12"/>
<rect x="573.6" y="1568.7" width="3.6" height="113.7" fill="#482b1d"/>
<rect x="575.4" y="1568.7" width="2.8" height="113.7" fill="#2a130a" opacity="0.8"/>
<rect x="553.3" y="1568.2" width="20.8" height="114.2" fill="#7c5946"/>
<rect x="553" y="1568.7" width="1.3" height="113.7" fill="#2a130a" opacity="0.75"/>
<rect x="554.1" y="1568.2" width="1" height="114.2" fill="#ffffff" opacity="0.12"/>
<rect x="577.3" y="1560.2" width="20.1" height="135.4" fill="#775542"/>
<rect x="595.9" y="1560.7" width="2.5" height="134.9" fill="#2a130a" opacity="0.85"/>
<rect x="577" y="1560.7" width="1.3" height="134.9" fill="#2a130a" opacity="0.75"/>
<rect x="578.1" y="1560.2" width="1" height="135.4" fill="#ffffff" opacity="0.12"/>
<rect x="618.1" y="1547.5" width="7.7" height="163.5" fill="#482b1d"/>
<rect x="624" y="1547.5" width="1.8" height="163.5" fill="#2a130a" opacity="0.8"/>
<rect x="597.8" y="1547" width="20.8" height="164" fill="#825f4a"/>
<rect x="597.5" y="1547.5" width="1.3" height="163.5" fill="#2a130a" opacity="0.75"/>
<rect x="598.6" y="1547" width="1" height="164" fill="#ffffff" opacity="0.12"/>
<rect x="641" y="1571.1" width="2.9" height="114.9" fill="#482b1d"/>
<rect x="642.1" y="1571.1" width="3" height="114.9" fill="#2a130a" opacity="0.8"/>
<rect x="618.2" y="1570.6" width="23.3" height="115.4" fill="#7b5845"/>
<rect x="617.9" y="1571.1" width="1.3" height="114.9" fill="#2a130a" opacity="0.75"/>
<rect x="619" y="1570.6" width="1" height="115.4" fill="#ffffff" opacity="0.12"/>
<rect x="665" y="1563.9" width="5.3" height="136.5" fill="#482b1d"/>
<rect x="668.5" y="1563.9" width="1.8" height="136.5" fill="#2a130a" opacity="0.8"/>
<rect x="644.2" y="1563.4" width="21.3" height="137" fill="#7f5c47"/>
<rect x="643.9" y="1563.9" width="1.3" height="136.5" fill="#2a130a" opacity="0.75"/>
<rect x="645" y="1563.4" width="1" height="137" fill="#ffffff" opacity="0.12"/>
<rect x="687.8" y="1579" width="5.4" height="101" fill="#482b1d"/>
<rect x="691.4" y="1579" width="1.8" height="101" fill="#2a130a" opacity="0.8"/>
<rect x="665.1" y="1578.5" width="23.2" height="101.5" fill="#7f5c48"/>
<rect x="664.8" y="1579" width="1.3" height="101" fill="#2a130a" opacity="0.75"/>
<rect x="665.9" y="1578.5" width="1" height="101.5" fill="#ffffff" opacity="0.12"/></g>
<line x1="47.5" y1="555.5" x2="47.5" y2="761.5" stroke="#484848" stroke-width="1.4"/><path d="M47.5 550.5 L51.5 557.5 L43.5 557.5 Z" fill="#484848"/><path d="M47.5 766.5 L51.5 759.5 L43.5 759.5 Z" fill="#484848"/>
<line x1="47.3" y1="871.7" x2="47.3" y2="1077.3" stroke="#484848" stroke-width="1.4"/><path d="M47.3 866.7 L51.3 873.7 L43.3 873.7 Z" fill="#484848"/><path d="M47.3 1082.3 L51.3 1075.3 L43.3 1075.3 Z" fill="#484848"/>
<line x1="47.5" y1="1184.6" x2="47.5" y2="1390.6" stroke="#484848" stroke-width="1.4"/><path d="M47.5 1179.6 L51.5 1186.6 L43.5 1186.6 Z" fill="#484848"/><path d="M47.5 1395.6 L51.5 1388.6 L43.5 1388.6 Z" fill="#484848"/>
<line x1="46.4" y1="1496.5" x2="46.4" y2="1702.5" stroke="#484848" stroke-width="1.4"/><path d="M46.4 1491.5 L50.4 1498.5 L42.4 1498.5 Z" fill="#484848"/><path d="M46.4 1707.5 L50.4 1700.5 L42.4 1700.5 Z" fill="#484848"/>
<line x1="78.7" y1="791.6" x2="400.4" y2="791.6" stroke="#484848" stroke-width="1.1"/><path d="M73.7 791.6 L80.7 787.6 L80.7 795.6 Z" fill="#484848"/><path d="M405.4 791.6 L398.4 787.6 L398.4 795.6 Z" fill="#484848"/>
<line x1="78.9" y1="1101.9" x2="499.6" y2="1101.9" stroke="#484848" stroke-width="1.1"/><path d="M73.9 1101.9 L80.9 1097.9 L80.9 1105.9 Z" fill="#484848"/><path d="M504.6 1101.9 L497.6 1097.9 L497.6 1105.9 Z" fill="#484848"/>
<line x1="78.7" y1="1416.6" x2="611.8" y2="1416.6" stroke="#484848" stroke-width="1.1"/><path d="M73.7 1416.6 L80.7 1412.6 L80.7 1420.6 Z" fill="#484848"/><path d="M616.8 1416.6 L609.8 1412.6 L609.8 1420.6 Z" fill="#484848"/>
<line x1="66" y1="1725.4" x2="679" y2="1725.4" stroke="#484848" stroke-width="1.1"/><path d="M60.5 1725.4 L67.5 1721.4 L67.5 1729.4 Z" fill="#484848"/>
<line x1="423.8" y1="764.3" x2="446.0" y2="741.4" stroke="#4a4a4a" stroke-width="1.3"/><line x1="413.6" y1="774.9" x2="423.8" y2="764.3" stroke="#4a4a4a" stroke-width="1" opacity="0.35"/><path d="M449.5 737.8 L446.9 746.5 L440.9 740.6 Z" fill="#4a4a4a"/><path d="M408.0 780.6 L412.7 779.5 L413.6 774.9 L408.9 775.9 Z" fill="#4a4a4a"/>
<line x1="522.0" y1="1077.2" x2="544.5" y2="1053.6" stroke="#4a4a4a" stroke-width="1.3"/><line x1="511.5" y1="1088.1" x2="522.0" y2="1077.2" stroke="#4a4a4a" stroke-width="1" opacity="0.35"/><path d="M548.0 1050.0 L545.5 1058.7 L539.4 1052.9 Z" fill="#4a4a4a"/><path d="M506.0 1093.9 L510.6 1092.8 L511.5 1088.1 L506.9 1089.2 Z" fill="#4a4a4a"/>
<line x1="634.5" y1="1392.6" x2="656.7" y2="1368.9" stroke="#4a4a4a" stroke-width="1.3"/><line x1="624.3" y1="1403.5" x2="634.5" y2="1392.6" stroke="#4a4a4a" stroke-width="1" opacity="0.35"/><path d="M660.1 1365.3 L657.7 1374.0 L651.6 1368.3 Z" fill="#4a4a4a"/><path d="M618.8 1409.3 L627.3 1406.3 L621.2 1400.6 Z" fill="#4a4a4a"/>
<path d="M718.6 1673.7 Q696 1690 688 1722" fill="none" stroke="#555" stroke-width="1.3"/><path d="M685.2 1729.9 L684 1718 L693 1722 Z" fill="#555"/>
<path d="M414 569.5 A9 9.0 0 0 0 414 587.5" fill="none" stroke="#3a3a3a" stroke-width="1.3" stroke-dasharray="3.5 2"/><path d="M511 568.5 A12 10.949999999999989 0 0 1 511 590.4" fill="none" stroke="#3a3a3a" stroke-width="1.3" stroke-dasharray="3.5 2"/>
<path d="M522 876 A14.5 13.949999999999989 0 0 0 522 903.9" fill="none" stroke="#3a3a3a" stroke-width="1.3" stroke-dasharray="3.5 2"/><path d="M612.5 874.6 A14.0 14.649999999999977 0 0 1 612.5 903.9" fill="none" stroke="#3a3a3a" stroke-width="1.3" stroke-dasharray="3.5 2"/>
<path d="M634 1180.8 A9.5 12.600000000000023 0 0 0 634 1206" fill="none" stroke="#3a3a3a" stroke-width="1.3" stroke-dasharray="3.5 2"/><path d="M730 1177.2 A13.5 15.049999999999955 0 0 1 730 1207.3" fill="none" stroke="#3a3a3a" stroke-width="1.3" stroke-dasharray="3.5 2"/>
<g fill="#3a3a3a"><path d="M758 1514 L763 1511.5 L766 1513 L770 1511 L773 1515 L771 1518 L773 1521 L769 1524 L766 1522 L763 1525 L760 1522 L761 1518 Z" opacity="0.85"/><rect x="761" y="1509" width="1.2" height="4" opacity="0.6"/><rect x="756" y="1519" width="3" height="1.2" opacity="0.5"/></g>
</svg>
<div class="t" style="left:429.2px;top:572.2px;font-size:12.5px;letter-spacing:0px;color:#333;font-weight:normal;">4 Hooks Version</div>
<div class="t" style="left:528.5px;top:882.6px;font-size:12.5px;letter-spacing:0px;color:#333;font-weight:normal;">.6 Hooks Version</div>
<div class="t" style="left:650.5px;top:1187.5px;font-size:12.5px;letter-spacing:0px;color:#333;font-weight:normal;">8 Hooks Version</div>
<div class="t" style="left:672.7px;top:1512px;font-size:12.5px;letter-spacing:0px;color:#333;font-weight:normal;">10 Hooks Versio</div>
<div class="t" style="left:470.2px;top:746.6px;font-size:12.5px;letter-spacing:0.2px;color:#333;font-weight:normal;">(Including Backboard)</div>
<div class="t" style="left:567.1px;top:1062.1px;font-size:12.5px;letter-spacing:0.2px;color:#333;font-weight:normal;">(Including Backboard)</div>
<div class="t" style="left:681.8px;top:1375.1px;font-size:12.5px;letter-spacing:0.2px;color:#333;font-weight:normal;">(Including Backboard)</div>
<div class="t" style="left:726.2px;top:1677.5px;font-size:12.5px;letter-spacing:0.2px;color:#333;font-weight:normal;">(Including Backboard)</div>
<div class="t" style="left:430.8px;top:770.7px;font-size:12.5px;letter-spacing:0px;color:#555;font-weight:normal;">Total Thickness 1.3 In</div>
<div class="t" style="left:528.5px;top:1084px;font-size:12.5px;letter-spacing:0px;color:#555;font-weight:normal;">Total Thickness 1.3 In</div>
<div class="t" style="left:645.7px;top:1399.9px;font-size:12.5px;letter-spacing:0px;color:#555;font-weight:normal;">Total Thickness 1.3 In</div>
<div class="t" style="left:696.6px;top:1701.6px;font-size:12.5px;letter-spacing:0px;color:#555;font-weight:normal;">Total Thickness 1.3 In</div>
<div class="t" style="left:221.3px;top:808.3px;font-size:13px;letter-spacing:0px;color:#555;font-weight:normal;">12.2 In</div>
<div class="t" style="left:274.2px;top:1117.8px;font-size:13px;letter-spacing:0px;color:#555;font-weight:normal;">17.5 In</div>
<div class="t" style="left:317.9px;top:1433.5px;font-size:13px;letter-spacing:0px;color:#555;font-weight:normal;">23.0 In</div>
<div class="t" style="left:321.7px;top:1741.5px;font-size:13px;letter-spacing:0px;color:#555;font-weight:normal;">27.95 In</div>
<div class="rot" style="left:7.200000000000003px;top:641.6px;width:60px;height:14px;font-size:13.6px;text-align:center;transform:rotate(90deg);">7.09 In</div>
<div class="rot" style="left:7.799999999999997px;top:958.5px;width:60px;height:14px;font-size:13.6px;text-align:center;transform:rotate(90deg);">7.09 In</div>
<div class="rot" style="left:7.799999999999997px;top:1272.7px;width:60px;height:14px;font-size:13.6px;text-align:center;transform:rotate(90deg);">7.09 In</div>
<div class="rot" style="left:7px;top:1584.8px;width:60px;height:14px;font-size:13.6px;text-align:center;transform:rotate(90deg);">7.09 In</div>
<div class="beige"></div>
</body></html>
